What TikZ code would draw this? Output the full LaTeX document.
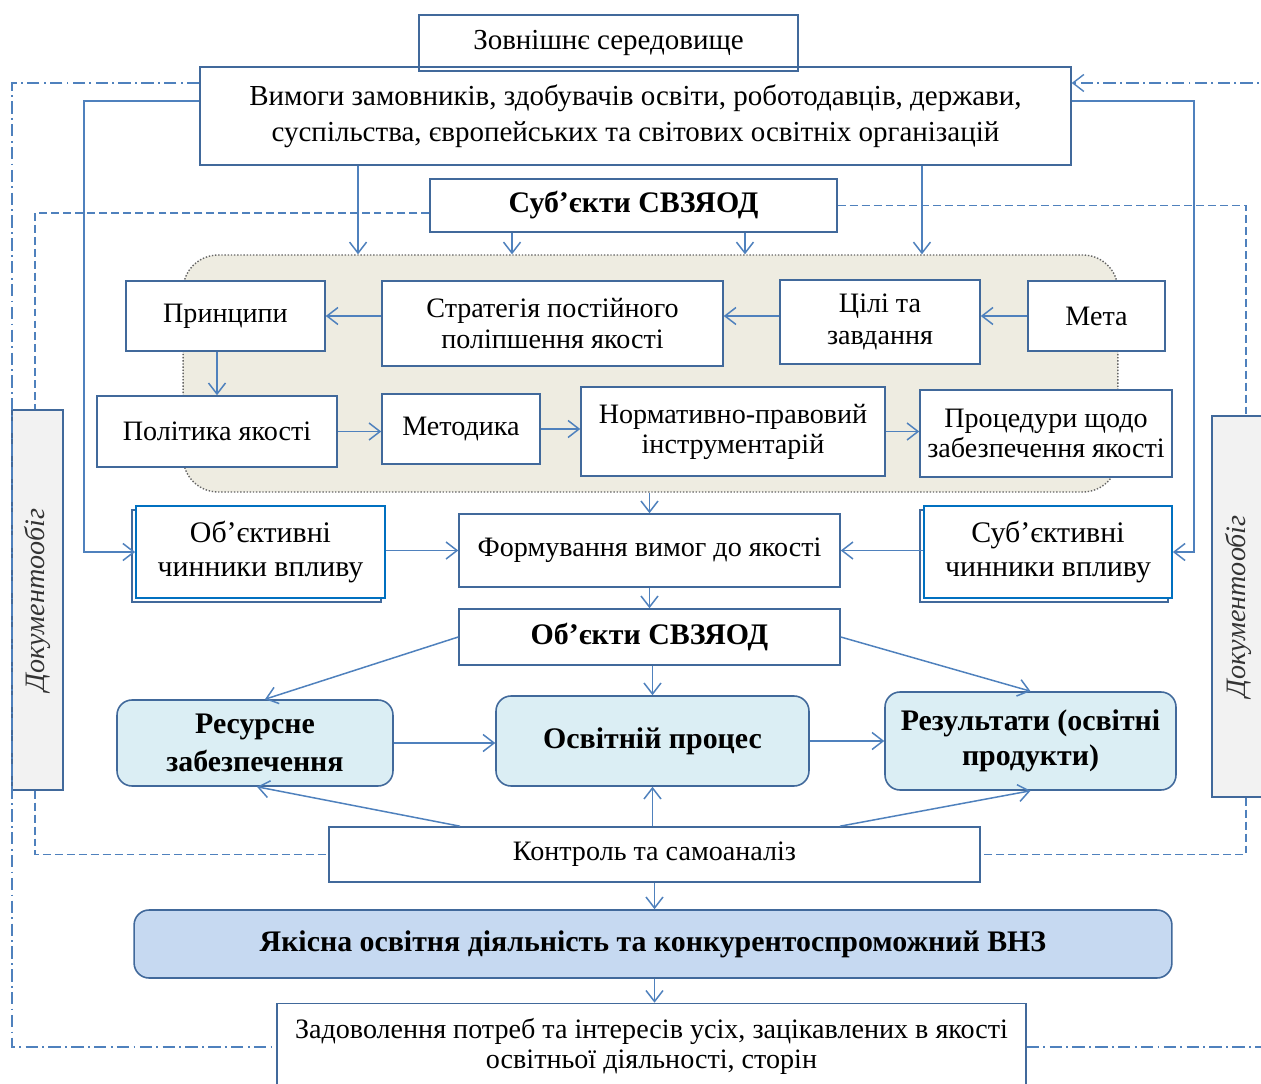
\documentclass[tikz,border=0pt]{standalone}
\usepackage{fontspec}
\setmainfont{Liberation Serif}
\usetikzlibrary{arrows.meta,shadows}

\definecolor{lineblue}{RGB}{79,129,189}
\definecolor{boxline}{RGB}{65,105,155}
\definecolor{factorblue}{RGB}{0,112,192}
\definecolor{panelfill}{RGB}{238,236,225}
\definecolor{procfill}{RGB}{219,238,244}
\definecolor{goalfill}{RGB}{198,217,241}
\definecolor{docfill}{RGB}{242,242,242}

\tikzset{
  box/.style={draw=boxline, line width=0.9pt, fill=white, align=center, inner sep=0pt,
    font=\fontsize{16}{18}\selectfont},
  headbox/.style={box, font=\fontsize{17}{20}\selectfont\bfseries},
  panelbg/.style={draw=black!60, densely dotted, line width=0.8pt, fill=panelfill,
    rounded corners=0.7cm, inner sep=0pt},
  procbox/.style={headbox, fill=procfill, rounded corners=0.3cm},
  goalbox/.style={headbox, fill=goalfill, rounded corners=0.3cm},
  factor/.style={box, draw=factorblue, line width=1pt, font=\fontsize{17}{19.5}\selectfont,
    general shadow={shadow xshift=-0.08cm, shadow yshift=-0.08cm, draw=boxline, fill=white, line width=0.7pt}},
  docbox/.style={box, fill=docfill, font=\fontsize{16}{18}\selectfont\itshape\color{black!80}},
  link/.style={lineblue, line width=0.85pt, ->},
  outerloop/.style={lineblue, line width=0.8pt, dash pattern=on 7pt off 2.5pt on 1pt off 2.5pt},
  docloop/.style={lineblue, line width=0.8pt, dash pattern=on 4.5pt off 2.3pt},
}

\begin{document}
\begin{tikzpicture}[x=0.02cm, y=-0.02cm, >={Straight Barb[length=2.2mm,width=3.4mm]}]
  \fill[white] (0,0) rectangle (1261,1084);
  \useasboundingbox (0,0) rectangle (1261,1084);

  % top
  \node[box, minimum width=7.58cm, minimum height=1.12cm, font=\fontsize{16.5}{18}\selectfont] (zovn) at (608.5,43) {Зовнішнє середовище};
  \node[box, fill=none, minimum width=17.42cm, minimum height=1.96cm, font=\fontsize{16.5}{20.4}\selectfont] (vym) at (635.5,116)
    {Вимоги замовників, здобувачів освіти, роботодавців, держави,\\суспільства, європейських та світових освітніх організацій};
  \node[headbox, minimum width=8.14cm, minimum height=1.06cm] (subj) at (633.5,205.5) {Суб’єкти СВЗЯОД};

  % panel
  \node[panelbg, minimum width=18.7cm, minimum height=4.74cm] (panel) at (650.5,373.5) {};
  \node[box, minimum width=3.98cm, minimum height=1.40cm] (pryn) at (225.5,316) {Принципи};
  \node[box, minimum width=6.82cm, minimum height=1.70cm] (strat) at (552.5,323.5) {Стратегія постійного\\поліпшення якості};
  \node[box, minimum width=4.00cm, minimum height=1.68cm] (tsili) at (880,322) {Цілі та\\завдання};
  \node[box, minimum width=2.74cm, minimum height=1.40cm] (meta) at (1096.5,316) {Мета};
  \node[box, minimum width=4.80cm, minimum height=1.42cm] (polit) at (217,431.5) {Політика якості};
  \node[box, minimum width=3.16cm, minimum height=1.40cm] (metod) at (461,429) {Методика};
  \node[box, minimum width=6.08cm, minimum height=1.78cm, font=\fontsize{16}{17}\selectfont] (norm) at (733,431.5) {Нормативно-правовий\\інструментарій};
  \node[box, minimum width=5.04cm, minimum height=1.74cm, font=\fontsize{16}{17.5}\selectfont] (proc) at (1046,433.5) {Процедури щодо\\забезпечення якості};

  % requirements
  \node[factor, minimum width=4.98cm, minimum height=1.84cm] (objch) at (260.5,552) {Об’єктивні\\чинники впливу};
  \node[box, minimum width=7.62cm, minimum height=1.46cm] (form) at (649.5,550.5) {Формування вимог до якості};
  \node[factor, minimum width=4.96cm, minimum height=1.84cm] (subjch) at (1048,552) {Суб’єктивні\\чинники впливу};
  \node[headbox, minimum width=7.62cm, minimum height=1.12cm] (objs) at (649.5,637) {Об’єкти СВЗЯОД};

  % process
  \node[procbox, minimum width=5.52cm, minimum height=1.72cm, font=\fontsize{17}{22}\selectfont\bfseries] (res) at (255,743) {Ресурсне\\забезпечення};
  \node[procbox, minimum width=6.26cm, minimum height=1.80cm] (osv) at (652.5,741) {Освітній процес};
  \node[procbox, minimum width=5.82cm, minimum height=1.96cm] (rez) at (1030.5,741) {Результати (освітні\\продукти)};
  \node[box, minimum width=13.02cm, minimum height=1.10cm] (kontr) at (654.5,854.5) {Контроль та самоаналіз};
  \node[goalbox, minimum width=20.76cm, minimum height=1.36cm] (yak) at (653,944) {Якісна освітня діяльність та конкурентоспроможний ВНЗ};
  \node[box, minimum width=14.98cm, minimum height=1.70cm, font=\fontsize{16}{17}\selectfont] (zad) at (651.5,1046)
    {Задоволення потреб та інтересів усіх, зацікавлених в якості\\освітньої діяльності, сторін};

  % document flow
  \node[docbox, minimum width=1.02cm, minimum height=7.60cm] (docL) at (37.5,600) {\rotatebox{90}{Документообіг}};
  \node[docbox, minimum width=1.04cm, minimum height=7.62cm] (docR) at (1238,606.5) {\rotatebox{90}{Документообіг}};

  % outer loop
  \coordinate (ddTL) at (12,83);
  \coordinate (ddBL) at (12,1047);
  \coordinate (ddTR) at (1263,83);
  \coordinate (ddBR) at (1263,1047);
  \draw[outerloop] (vym.west |- ddTL) -- (ddTL) -- (ddBL) -- (zad.west |- ddBL);
  \draw[outerloop, ->] (zad.east |- ddBR) -- (ddBR) -- (ddTR) -- (vym.east |- ddTR);

  % document loop
  \coordinate (dsL) at (35,213);
  \coordinate (dsR) at (1246,205.5);
  \draw[docloop] (subj.west |- dsL) -- (dsL) -- (dsL |- docL.north);
  \draw[docloop] (dsL |- docL.south) -- (dsL |- kontr.west) -- (kontr.west);
  \draw[docloop] (subj.east) -- (dsR) -- (dsR |- docR.north);
  \draw[docloop] (dsR |- docR.south) -- (dsR |- kontr.east) -- (kontr.east);

  % feedback
  \coordinate (fbL) at (84,101);
  \coordinate (fbR) at (1194,101);
  \draw[link] (vym.west |- fbL) -- (fbL) |- (objch.west);
  \draw[link] (vym.east |- fbR) -- (fbR) |- (subjch.east);

  % into panel
  \draw[link] ([xshift=-5.55cm]vym.south) -- ([xshift=-5.55cm]vym.south |- panel.north);
  \draw[link] ([xshift=5.73cm]vym.south) -- ([xshift=5.73cm]vym.south |- panel.north);
  \draw[link] ([xshift=-2.43cm]subj.south) -- ([xshift=-2.43cm]subj.south |- panel.north);
  \draw[link] ([xshift=2.23cm]subj.south) -- ([xshift=2.23cm]subj.south |- panel.north);

  % panel chain
  \draw[link] (meta.west) -- (meta.west -| tsili.east);
  \draw[link] (tsili.west |- meta.west) -- (strat.east |- meta.west);
  \draw[link] (strat.west |- pryn.east) -- (pryn.east);
  \draw[link] (polit.north |- pryn.south) -- (polit.north);
  \draw[link] (polit.east) -- (polit.east -| metod.west);
  \draw[link] (metod.east) -- (metod.east -| norm.west);
  \draw[link] (norm.east) -- (norm.east -| proc.west);

  % requirements
  \draw[link] (form.north |- panel.south) -- (form.north);
  \draw[link] (objch.east |- form.west) -- (form.west);
  \draw[link] (subjch.west |- form.east) -- (form.east);
  \draw[link] (form.south) -- (objs.north);

  % objects
  \draw[link] (objs.west) -- ([xshift=0.2cm]res.north);
  \draw[link] (osv.north |- objs.south) -- (osv.north);
  \draw[link] (objs.east) -- (rez.north);
  \draw[link] (res.east) -- (res.east -| osv.west);
  \draw[link] (osv.east) -- (osv.east -| rez.west);

  % control
  \draw[link] ([xshift=-3.89cm]kontr.north) -- ([xshift=0.04cm]res.south);
  \draw[link] (osv.south |- kontr.north) -- (osv.south);
  \draw[link] ([xshift=3.71cm]kontr.north) -- (rez.south);
  \draw[link] (kontr.south) -- (kontr.south |- yak.north);
  \draw[link] (kontr.south |- yak.south) -- (kontr.south |- zad.north);
\end{tikzpicture}
\end{document}
